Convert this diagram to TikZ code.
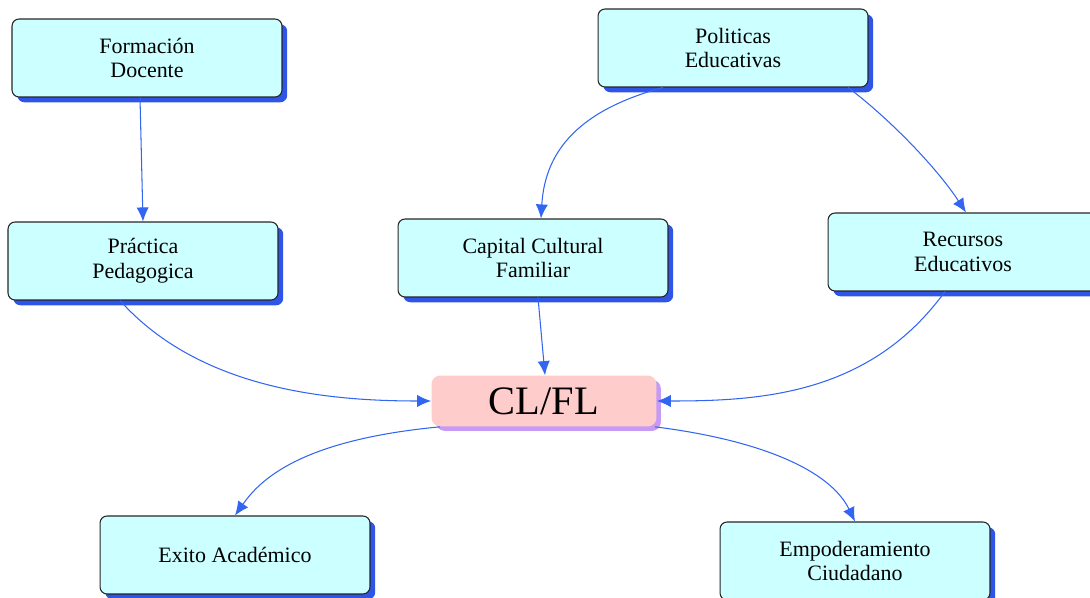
\documentclass[tikz,border=0pt]{standalone}
\usepackage{fontspec}
\setmainfont{Liberation Serif}
\usepackage{xcolor}
\usetikzlibrary{arrows.meta, positioning, shadows}
\definecolor{boxcyan}{HTML}{CCFFFF}
\definecolor{boxpink}{HTML}{FFCCCC}
\definecolor{shadeblue}{HTML}{2E55E8}
\definecolor{shadepurple}{HTML}{C79BF5}
\definecolor{linkblue}{HTML}{3366F0}
\tikzset{
    mapdiagram/.style={x=0.02cm, y=-0.02cm, >={Latex[length=8pt,width=7pt]}, font=\fontsize{12.5}{14}\selectfont},
    concept/.style={draw=black!85, line width=0.6pt, fill=boxcyan, rounded corners=4pt, minimum width=5.4cm, minimum height=1.56cm, align=center,
        general shadow={fill=shadeblue, shadow xshift=3pt, shadow yshift=-3pt}},
    core/.style={draw=none, fill=boxpink, rounded corners=5pt, minimum width=4.5cm, minimum height=1.02cm,
        font=\fontsize{23}{26}\selectfont,
        general shadow={fill=shadepurple, shadow xshift=2.5pt, shadow yshift=-2.5pt}},
    link/.style={->, draw=linkblue, semithick},
}
\begin{document}
\begin{tikzpicture}[mapdiagram]
    \useasboundingbox (0,0) rectangle (1090,598);

    \node[concept] (formacion) at (147,58)  {Formación\\Docente};
    \node[concept] (politicas) at (733,48)  {Politicas\\Educativas};
    \node[concept] (practica)  at (143,261) {Práctica\\Pedagogica};
    \node[concept] (capital)   at (533,258) {Capital Cultural\\Familiar};
    \node[concept] (recursos)  at (963,252) {Recursos\\Educativos};
    \node[core]    (clfl)      at (544,401) {CL/FL};
    \node[concept] (exito)     at (235,555) {Exito Académico};
    \node[concept] (empodera)  at (855,561) {Empoderamiento\\Ciudadano};

    % arrows into the centre
    \draw[link] (formacion.south -| 140,0) -- (practica.north -| 143,0);
    \draw[link] (politicas.south -| 663,0) .. controls (580,110) and (545,150) .. (capital.north -| 541,0);
    \draw[link] (politicas.south -| 848,0) .. controls (885,115) and (935,165) .. (recursos.north -| 966,0);
    \draw[link] (practica.south -| 120,0) .. controls (200,390) and (330,401) .. (clfl.west);
    \draw[link] (capital.south -| 538,0) -- (clfl.north -| 545,0);
    \draw[link] (recursos.south -| 945,0) .. controls (870,395) and (760,401) .. (clfl.east);

    % arrows out of the centre
    \draw[link] (clfl.south -| 440,0) .. controls (300,440) and (260,480) .. (exito.north -| 235,0);
    \draw[link] (clfl.south -| 655,0) .. controls (760,440) and (830,470) .. (empodera.north -| 855,0);
\end{tikzpicture}
\end{document}
